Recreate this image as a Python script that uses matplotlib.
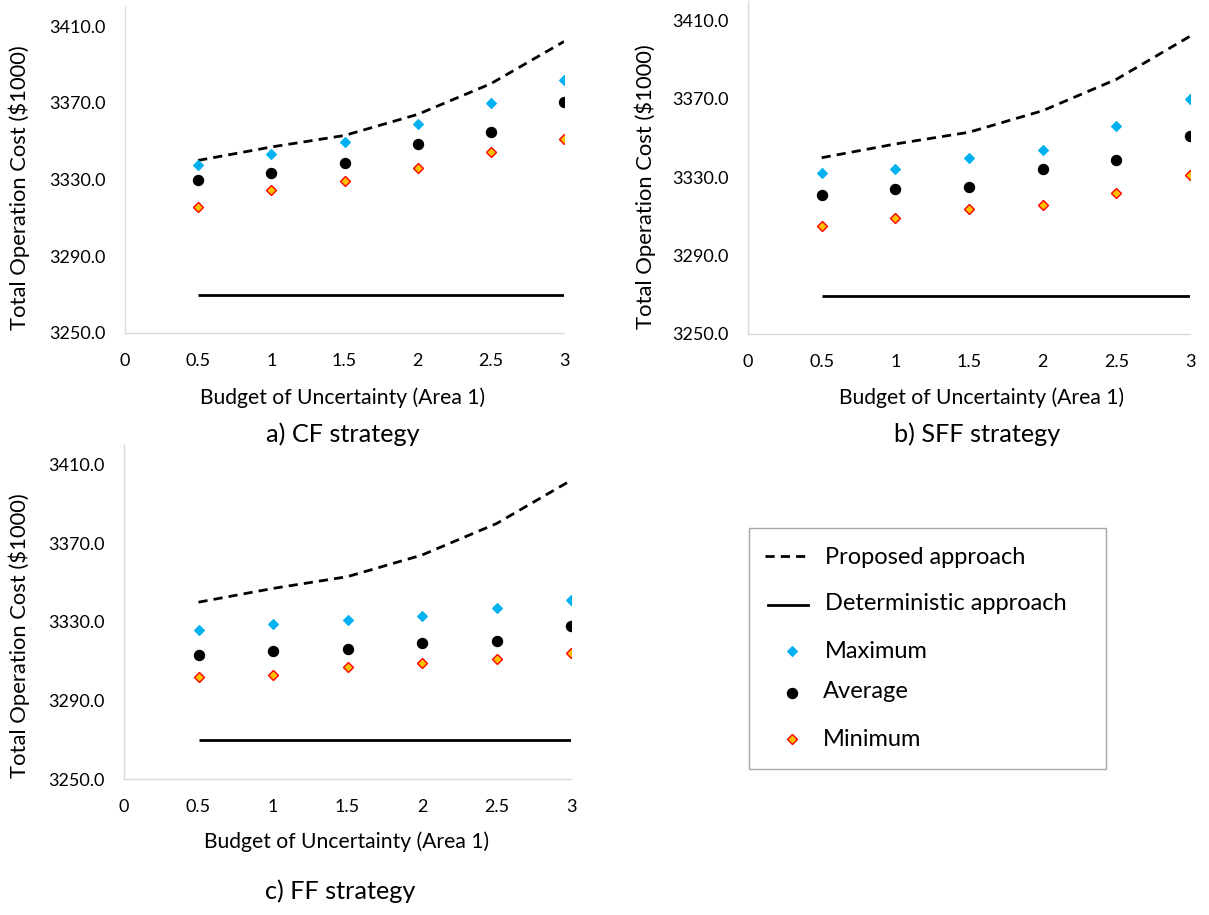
import matplotlib
matplotlib.use("Agg")
import matplotlib.pyplot as plt
from matplotlib.lines import Line2D
from matplotlib.patches import Rectangle

# ---- data -------------------------------------------------------------
budget = [0.5, 1.0, 1.5, 2.0, 2.5, 3.0]
x_ticks = [0, 0.5, 1, 1.5, 2, 2.5, 3]
x_tick_labels = ["0", "0.5", "1", "1.5", "2", "2.5", "3"]
y_ticks = [3250, 3290, 3330, 3370, 3410]
y_tick_labels = ["3250.0", "3290.0", "3330.0", "3370.0", "3410.0"]

proposed = [3340.0, 3347.0, 3353.0, 3364.0, 3380.0, 3402.0]
deterministic = [3269.6, 3269.6, 3269.6, 3269.6, 3269.6, 3269.6]

cf_max = [3337.5, 3343.6, 3349.5, 3358.8, 3369.7, 3381.7]
cf_avg = [3329.6, 3333.5, 3338.6, 3348.5, 3354.6, 3370.5]
cf_min = [3315.5, 3324.4, 3329.2, 3336.3, 3344.2, 3351.3]

sff_max = [3332.0, 3334.0, 3340.0, 3344.0, 3356.0, 3370.0]
sff_avg = [3321.0, 3324.0, 3325.0, 3334.0, 3339.0, 3351.0]
sff_min = [3305.0, 3309.0, 3314.0, 3316.0, 3322.0, 3331.0]

ff_max = [3326.0, 3329.0, 3331.0, 3333.0, 3337.0, 3341.0]
ff_avg = [3313.0, 3315.0, 3316.0, 3319.0, 3320.0, 3328.0]
ff_min = [3302.0, 3303.0, 3307.0, 3309.0, 3311.0, 3314.0]

panel_titles = ["a) CF strategy", "b) SFF strategy", "c) FF strategy"]
x_label = "Budget of Uncertainty (Area 1)"
y_label = "Total Operation Cost ($1000)"
legend_labels = ["Proposed approach", "Deterministic approach",
                 "Maximum", "Average", "Minimum"]

# ---- style ------------------------------------------------------------
FONT = ["Lato", "DejaVu Sans"]
plt.rcParams["font.family"] = FONT
TEXT = "#000000"
AXIS_GREY = "#D9D9D9"
BLUE = "#00B0F0"
ORANGE = "#FFC000"
RED = "#FF0000"

W, H = 1209, 915
fig = plt.figure(figsize=(W / 100, H / 100), dpi=100)
fig.patch.set_facecolor("white")


def px_rect(left, top, right, bottom):
    return [left / W, 1 - bottom / H, (right - left) / W, (bottom - top) / H]


def fx(x):
    return x / W


def fy(y):
    return 1 - y / H


dash_style = (0, (3.3, 2.2))
max_style = dict(linestyle="none", marker="D", markersize=5.6,
                 markerfacecolor=BLUE, markeredgecolor=BLUE, markeredgewidth=0.8)
avg_style = dict(linestyle="none", marker="o", markersize=7.2,
                 markerfacecolor="black", markeredgecolor="black")
min_style = dict(linestyle="none", marker="D", markersize=5.4,
                 markerfacecolor=ORANGE, markeredgecolor=RED, markeredgewidth=1.0)

panels = [
    dict(rect=px_rect(125, 7, 564, 333), mx=cf_max, av=cf_avg, mn=cf_min,
         title=panel_titles[0], title_xy=(343, 434),
         xl_xy=(343, 398), yl_xy=(19, 188)),
    dict(rect=px_rect(748, 1, 1190, 334), mx=sff_max, av=sff_avg, mn=sff_min,
         title=panel_titles[1], title_xy=(977, 434),
         xl_xy=(982, 398), yl_xy=(645, 187)),
    dict(rect=px_rect(124, 445, 571, 779), mx=ff_max, av=ff_avg, mn=ff_min,
         title=panel_titles[2], title_xy=(340, 891),
         xl_xy=(347, 842), yl_xy=(19, 636)),
]

for p in panels:
    ax = fig.add_axes(p["rect"])
    ax.set_xlim(0, 3)
    ax.set_ylim(3250, 3420)
    ax.plot(budget, proposed, color="black", lw=2.0,
            linestyle=dash_style, dash_capstyle="butt")
    ax.plot(budget, deterministic, color="black", lw=2.0,
            solid_capstyle="butt")
    ax.plot(budget, p["mx"], **max_style)
    ax.plot(budget, p["av"], **avg_style)
    ax.plot(budget, p["mn"], **min_style)

    for side in ("top", "right"):
        ax.spines[side].set_visible(False)
    for side in ("left", "bottom"):
        ax.spines[side].set_color(AXIS_GREY)
        ax.spines[side].set_linewidth(1.0)
    ax.set_xticks(x_ticks)
    ax.set_xticklabels(x_tick_labels)
    ax.set_yticks(y_ticks)
    ax.set_yticklabels(y_tick_labels)
    ax.tick_params(axis="both", length=0, labelsize=13, colors=TEXT)
    ax.tick_params(axis="y", pad=14)
    ax.tick_params(axis="x", pad=14.5)
    ax.set_facecolor("white")

    fig.text(fx(p["xl_xy"][0]), fy(p["xl_xy"][1]), x_label, fontsize=15.2,
             ha="center", va="center", color=TEXT)
    fig.text(fx(p["yl_xy"][0]), fy(p["yl_xy"][1]), y_label, fontsize=15.8,
             ha="center", va="center", rotation=90, color=TEXT)
    fig.text(fx(p["title_xy"][0]), fy(p["title_xy"][1]), p["title"],
             fontsize=18.2, ha="center", va="center", color=TEXT)

# ---- legend box -------------------------------------------------------
lax = fig.add_axes(px_rect(748, 527, 1106, 769))
lax.set_xlim(0, 358)
lax.set_ylim(242, 0)
lax.axis("off")
lax.add_patch(Rectangle((0.5, 0.5), 357, 241, fill=False,
                        edgecolor="#A6A6A6", lw=1.0, clip_on=False))

rows_y = [29, 78, 124, 166, 212]
text_y = [30, 77, 124, 165, 213]
lax.add_line(Line2D([17, 57], [rows_y[0]] * 2, color="black", lw=2.0,
                    linestyle=dash_style, dash_capstyle="butt"))
lax.add_line(Line2D([20, 60], [rows_y[1]] * 2, color="black", lw=2.0))
lax.add_line(Line2D([44], [rows_y[2]], **max_style))
lax.add_line(Line2D([44], [rows_y[3]], **avg_style))
lax.add_line(Line2D([44], [rows_y[4]], **min_style))
text_x = [77, 77, 77, 75, 75]
for lbl, tx, ty in zip(legend_labels, text_x, text_y):
    lax.text(tx, ty, lbl, fontsize=17, ha="left", va="center", color=TEXT)

fig.savefig("out.png", dpi=100, facecolor="white")
